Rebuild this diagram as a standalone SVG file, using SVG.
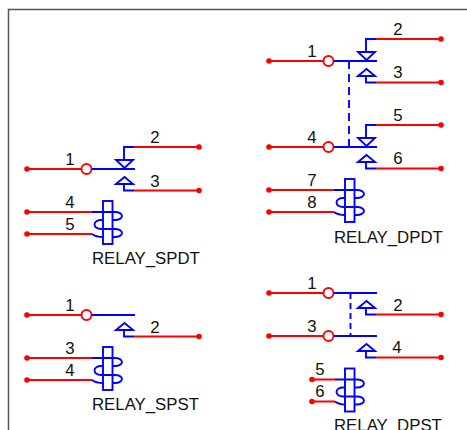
<svg xmlns="http://www.w3.org/2000/svg" width="467" height="430" viewBox="0 0 467 430">
<style>
.r{fill:none;stroke:#f00;stroke-width:1.9}
.b{fill:none;stroke:#00f;stroke-width:1.9}
.d{fill:#f00;stroke:none}
.c{fill:#fff;stroke:#f00;stroke-width:1.9}
.k{fill:none;stroke:#00f;stroke-width:1.9;stroke-dasharray:8 5}
text{font-family:"Liberation Sans",Arial,sans-serif;font-size:16.8px;fill:#111}
.m{text-anchor:middle}
</style>
<defs>
<g id="pole">
<path class="r" d="M0 0H54"/><circle class="d" cx="0" cy="0" r="2.8"/><circle class="c" cx="59.5" cy="0" r="5"/>
<path class="b" d="M65 0H108"/>
</g>
<g id="nc">
<path class="b" d="M107 -22H97V-9M89 -9H106L97.5 -1Z"/>
<path class="r" d="M107 -22H172"/><circle class="d" cx="172" cy="-22" r="2.8"/>
</g>
<g id="no">
<path class="b" d="M107 21.5H97V15M89 15H106L97.5 8Z"/>
<path class="r" d="M107 21.5H172"/><circle class="d" cx="172" cy="21.5" r="2.8"/>
</g>
<g id="coil">
<path class="r" d="M0 0H65M0 22H65"/><circle class="d" cx="0" cy="0" r="2.8"/><circle class="d" cx="0" cy="22" r="2.8"/>
<rect class="b" x="76" y="-11" width="9.5" height="43"/>
<path class="b" d="M65 0H88A7 4 0 0 1 88 8H85.5M76 8H74A6.5 4.5 0 0 0 74 17H88A7 4 0 0 1 88 25H85.5M65 22Q69 25 76 25"/>
</g>
</defs>
<rect width="467" height="430" fill="#fff"/>
<path d="M8.5 430V9.5H467" fill="none" stroke="#555" stroke-width="1.5"/>
<g id="connectors">
<path class="k" d="M349 61V147"/>
<path class="k" d="M350.5 293V336" style="stroke-dasharray:6 4"/>
</g>
<g id="relay-spdt">
<use href="#pole" x="27" y="169"/><use href="#nc" x="27" y="169"/><use href="#no" x="27" y="169"/><use href="#coil" x="27" y="212"/>
<text class="m" x="70" y="165">1</text><text class="m" x="155" y="143">2</text><text class="m" x="155" y="187">3</text><text class="m" x="70" y="208">4</text><text class="m" x="70" y="230">5</text>
<text x="92" y="264">RELAY_SPDT</text>
</g>
<g id="relay-dpdt">
<use href="#pole" x="269" y="61"/><use href="#nc" x="269" y="61"/><use href="#no" x="269" y="61"/>
<use href="#pole" x="269" y="147"/><use href="#nc" x="269" y="147"/><use href="#no" x="269" y="147"/>
<use href="#coil" x="269" y="190"/>
<text class="m" x="312" y="57">1</text><text class="m" x="398" y="35">2</text><text class="m" x="398" y="78">3</text><text class="m" x="312" y="143">4</text><text class="m" x="398" y="121">5</text><text class="m" x="398" y="164">6</text><text class="m" x="312" y="186">7</text><text class="m" x="312" y="208">8</text>
<text x="334" y="243">RELAY_DPDT</text>
</g>
<g id="relay-spst">
<use href="#pole" x="27" y="315"/><use href="#no" x="27" y="315"/><use href="#coil" x="27" y="358"/>
<text class="m" x="70" y="311">1</text><text class="m" x="155" y="333">2</text><text class="m" x="70" y="354">3</text><text class="m" x="70" y="376">4</text>
<text x="92" y="410">RELAY_SPST</text>
</g>
<g id="relay-dpst">
<use href="#pole" x="269" y="293"/><use href="#no" x="269" y="293"/><use href="#pole" x="269" y="336"/><use href="#no" x="269" y="336"/>
<g transform="translate(312 379.5)">
<path class="r" d="M0 0H23M0 22H23"/><circle class="d" cx="0" cy="0" r="2.8"/><circle class="d" cx="0" cy="22" r="2.8"/>
<rect class="b" x="33" y="-11" width="9.5" height="43"/>
<path class="b" d="M23 0H45A7 4 0 0 1 45 8H42.5M33 8H31A6.5 4.5 0 0 0 31 17H45A7 4 0 0 1 45 25H42.5M23 22Q27 25 33 25"/>
</g>
<text class="m" x="312" y="289">1</text><text class="m" x="398" y="311">2</text><text class="m" x="312" y="332">3</text><text class="m" x="397" y="353">4</text><text class="m" x="320" y="375">5</text><text class="m" x="320" y="397">6</text>
<text x="334" y="431">RELAY_DPST</text>
</g>
</svg>
